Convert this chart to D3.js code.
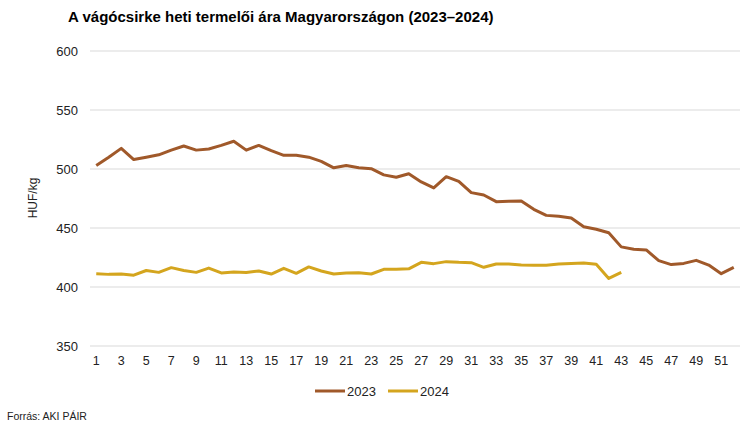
<!DOCTYPE html>
<html><head><meta charset="utf-8">
<script src="https://cdn.jsdelivr.net/npm/d3@7"></script>
<style>
html,body{margin:0;padding:0;background:#fff;}
text{font-family:"Liberation Sans",Arial,sans-serif;fill:#222;}
</style></head>
<body><svg id="c" width="753" height="431"></svg>
<script>
const weeks = d3.range(1, 53);
const series2023 = [503,510,517.5,508,510,512,516,519.5,516,517,520,523.5,516,520,515.5,511.6,511.6,510,506.5,501,503,501,500.3,495,493,496,489,484,493.5,489.5,480,478,472.3,472.6,472.9,465.8,460.7,460,458.5,451,448.9,446,434,432,431.4,422.3,419,420,422.6,418.6,411.3,416.7];
const series2024 = [411.3,410.7,411,410,414,412.4,416.4,414,412.4,416,411.9,412.7,412.2,413.6,411,415.8,411.6,417,413.6,411,411.9,412,411,415,415,415.4,420.9,419.8,421.5,420.9,420.6,416.7,419.5,419.5,418.6,418.4,418.4,419.5,420,420.4,419.2,407.3,412.4];
const yTicks = [350,400,450,500,550,600];
const xTickLabels = d3.range(1, 53, 2);
const seriesNames = ["2023","2024"];
const colors = ["#A0592A","#D4A51E"];

const svg = d3.select("#c");
const x = d3.scaleBand().domain(weeks).range([90, 740]);
const y = d3.scaleLinear().domain([350, 600]).range([346, 51]);
const cx = d => x(d) + x.bandwidth() / 2;

svg.append("text").attr("x", 68).attr("y", 22).attr("font-size", 15).attr("font-weight", "bold").style("fill","#000")
  .text("A vágócsirke heti termelői ára Magyarországon (2023–2024)");

// gridlines
svg.append("g").selectAll("line").data(yTicks).join("line")
  .attr("x1", 90).attr("x2", 740).attr("y1", d => y(d)).attr("y2", d => y(d))
  .attr("stroke", "#d9d9d9").attr("stroke-width", 1);

// y axis
const yAxis = svg.append("g").attr("transform", "translate(90,0)")
  .call(d3.axisLeft(y).tickValues(yTicks).tickSize(0).tickPadding(12));
yAxis.select(".domain").remove();
yAxis.selectAll("text").attr("font-size", 13).style("font-family", '"Liberation Sans",Arial,sans-serif').style("fill","#222");

svg.append("text").attr("transform", "translate(37,198) rotate(-90)").attr("text-anchor", "middle")
  .attr("font-size", 12).text("HUF/kg");

// x axis
const xAxis = svg.append("g").attr("transform", "translate(0,346)")
  .call(d3.axisBottom(x).tickValues(xTickLabels).tickSize(0).tickPadding(10));
xAxis.select(".domain").remove();
xAxis.selectAll("text").attr("font-size", 12.5).style("font-family", '"Liberation Sans",Arial,sans-serif').style("fill","#222");

const line = d3.line().x((d, i) => cx(weeks[i])).y(d => y(d));
[series2023, series2024].forEach((s, k) => {
  svg.append("path").datum(s).attr("d", line).attr("fill", "none")
    .attr("stroke", colors[k]).attr("stroke-width", 3).attr("stroke-linejoin", "round");
});

// legend
const lg = svg.append("g");
seriesNames.forEach((n, k) => {
  const lx = 315 + k * 73;
  lg.append("line").attr("x1", lx).attr("x2", lx + 30).attr("y1", 391).attr("y2", 391)
    .attr("stroke", colors[k]).attr("stroke-width", 3);
  lg.append("text").attr("x", lx + 32).attr("y", 395.5).attr("font-size", 13).text(n);
});

svg.append("text").attr("x", 7).attr("y", 420).attr("font-size", 10.5).text("Forrás: AKI PÁIR");
</script></body></html>
